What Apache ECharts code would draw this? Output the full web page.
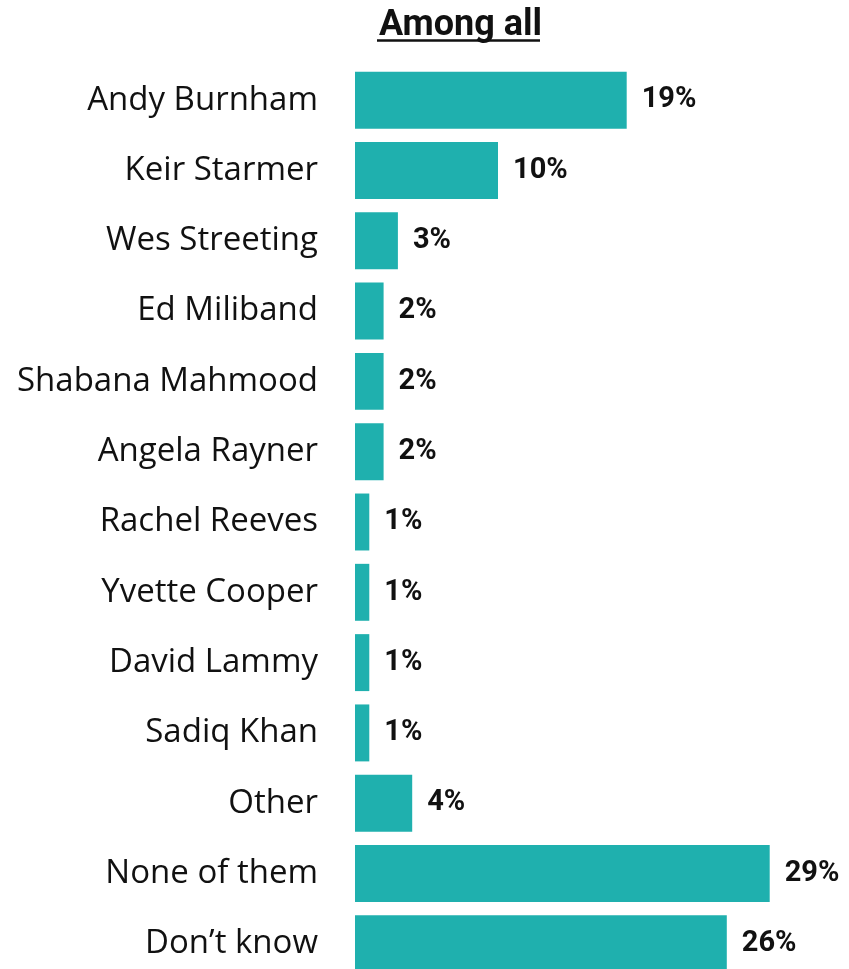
<!DOCTYPE html>
<html>
<head>
<meta charset="utf-8">
<script src="https://cdn.jsdelivr.net/npm/echarts@6/dist/echarts.min.js"></script>
<style>
    html, body { margin: 0; padding: 0; background: #fff; }
    #chart { width: 849px; height: 969px; }
</style>
</head>
<body>
<div id="chart"></div>
<script>
    // data
    var names = ['Andy Burnham', 'Keir Starmer', 'Wes Streeting', 'Ed Miliband', 'Shabana Mahmood',
        'Angela Rayner', 'Rachel Reeves', 'Yvette Cooper', 'David Lammy', 'Sadiq Khan',
        'Other', 'None of them', 'Don\u2019t know'];
    var shares = [19, 10, 3, 2, 2, 2, 1, 1, 1, 1, 4, 29, 26];
    var heading = 'Among all';

    var myChart = echarts.init(document.getElementById('chart'));
    myChart.setOption({
        animation: false,
        title: {
            text: heading,
            left: 374,
            top: 3,
            textStyle: { fontFamily: 'Roboto', fontWeight: 'bold', fontSize: 36, color: '#111' }
        },
        graphic: [{
            type: 'line',
            shape: { x1: 377, y1: 40.5, x2: 540, y2: 40.5 },
            style: { stroke: '#111', lineWidth: 2.5 }
        }],
        grid: { left: 355, width: 429, top: 65, height: 914, outerBoundsMode: 'none' },
        xAxis: {
            type: 'value',
            min: 0,
            max: 30,
            show: false
        },
        yAxis: {
            type: 'category',
            data: names,
            inverse: true,
            axisLine: { show: false },
            axisTick: { show: false },
            splitLine: { show: false },
            axisLabel: {
                margin: 37,
                fontFamily: 'Open Sans',
                fontSize: 33,
                color: '#111'
            }
        },
        series: [{
            type: 'bar',
            data: shares,
            barCategoryGap: '19%',
            itemStyle: { color: '#1FB0AE' },
            label: {
                show: true,
                position: 'right',
                distance: 15,
                formatter: '{c}%',
                fontFamily: 'Roboto',
                fontWeight: 'bold',
                fontSize: 29,
                color: '#111'
            }
        }]
    });
</script>
</body>
</html>
